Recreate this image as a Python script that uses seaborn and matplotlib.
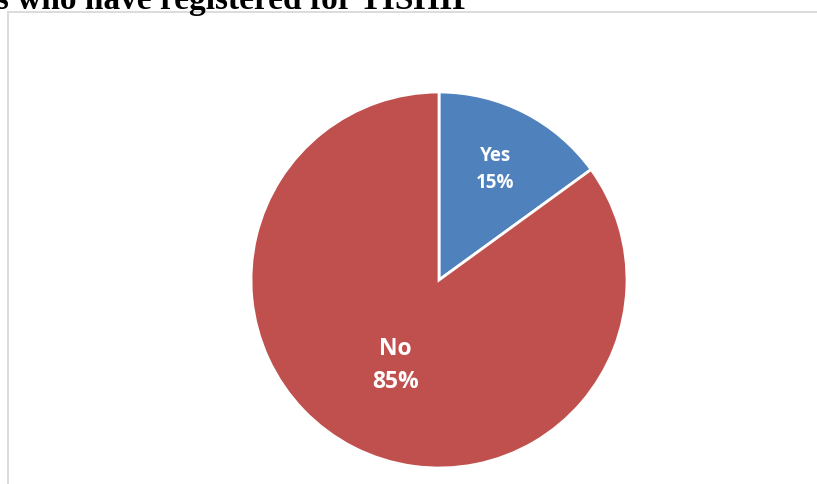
import numpy as np
import matplotlib
matplotlib.use("Agg")
import matplotlib.pyplot as plt
from matplotlib.patches import Rectangle
import seaborn as sns

# Registration status shares
categories = ["Yes", "No"]
shares = [15, 85]
slice_colors = ["#4F81BD", "#C0504D"]
title_text = "Proportion of students who have registered for TISHIP"

sns.set_theme(style="white")
plt.rcParams["font.family"] = ["Open Sans", "DejaVu Sans"]

W, H, DPI = 817, 484, 100
fig = plt.figure(figsize=(W / DPI, H / DPI), dpi=DPI)
fig.patch.set_facecolor("white")

# Light chart-area border running off the right and bottom edges
fig.patches.append(Rectangle((7.5 / W, -0.1), 1.2, (H - 12) / H + 0.1,
                             transform=fig.transFigure, fill=False,
                             edgecolor="#D9D9D9", linewidth=1.3, zorder=0))

# Pie axes placed around the pie centre
cx, cy, r = 439, 280, 188
ax = fig.add_axes([(cx - r) / W, (H - cy - r) / H, 2 * r / W, 2 * r / H])
wedges, _ = ax.pie(shares, colors=slice_colors, startangle=90, counterclock=False,
                   radius=1.0, wedgeprops=dict(edgecolor="white", linewidth=2))
ax.set_xlim(-1, 1)
ax.set_ylim(-1, 1)
ax.set_aspect("equal")
ax.axis("off")

label_dist = [0.66, 0.51]
label_size = [13.5, 16.5]
for w, cat, val, d, fs in zip(wedges, categories, shares, label_dist, label_size):
    mid = np.deg2rad((w.theta1 + w.theta2) / 2)
    ax.text(d * np.cos(mid), d * np.sin(mid), f"{cat}\n{val}%", ha="center", va="center",
            color="white", fontsize=fs, fontweight="bold", linespacing=1.5)

fig.text(473 / W, (H - 9.5) / H, title_text, ha="right", va="baseline",
         fontsize=24, fontweight="bold", family=["Liberation Serif", "DejaVu Serif"],
         color="black")

fig.savefig("out.png", dpi=DPI)
